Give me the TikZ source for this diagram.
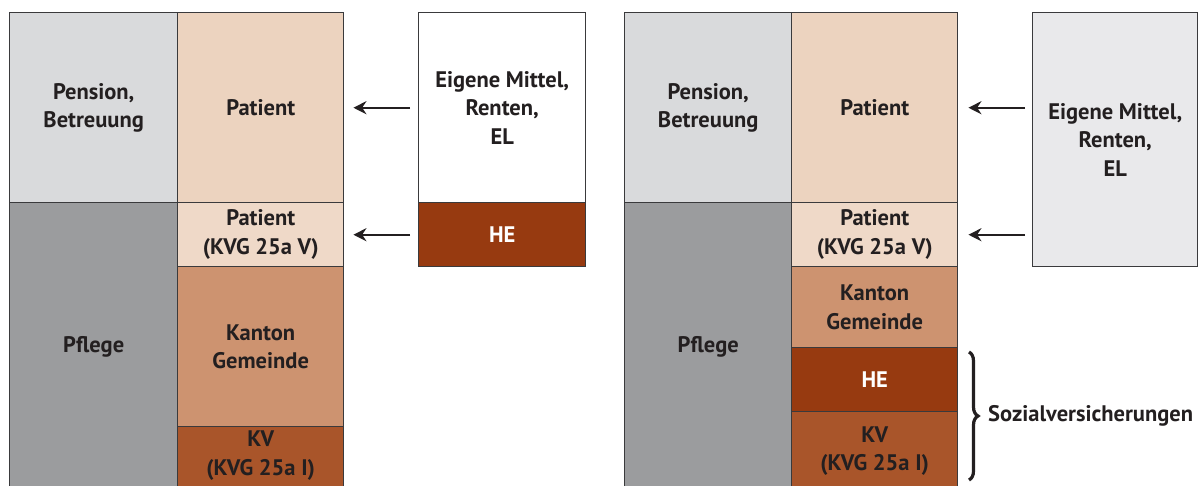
\documentclass[tikz,border=0pt]{standalone}
\usepackage{fontspec}
\setmainfont{PT Sans}
\usetikzlibrary{arrows.meta,decorations.pathreplacing}
\definecolor{pengray}{HTML}{D9DADC}
\definecolor{pflgray}{HTML}{9B9C9E}
\definecolor{patc}{HTML}{ECD3BF}
\definecolor{pkvc}{HTML}{EFD9C8}
\definecolor{kanc}{HTML}{CD9370}
\definecolor{kvc}{HTML}{A9552A}
\definecolor{hec}{HTML}{973A10}
\definecolor{eigc}{HTML}{E9E9EB}
\definecolor{inkc}{HTML}{231F20}
\definecolor{linec}{HTML}{3A3A3C}
\tikzset{
  lbl/.style={text=inkc, font=\fontsize{22.5}{28.5}\selectfont\bfseries},
  cell/.style={lbl, draw=linec, line width=1.4pt, anchor=north west, inner sep=0pt,
    align=center},
  arr/.style={draw=inkc, line width=2.2pt, -{Stealth[length=13pt,width=13pt]}},
  brc/.style={draw=inkc, line width=3.2pt, decorate, decoration={brace, amplitude=9pt}},
}
\begin{document}
\begin{tikzpicture}[x=1pt,y=-1pt]
\useasboundingbox (0,0) rectangle (1201,485);
\clip (0,0) rectangle (1201,485);
% ---------- left diagram ----------
\node[cell, fill=pengray, minimum width=168pt, minimum height=190pt] (pen1) at (9,12) {Pension,\\Betreuung};
\node[cell, fill=pflgray, minimum width=168pt, minimum height=288pt] (pfl1) at (9,202) {Pflege};
\node[cell, fill=patc, minimum width=166pt, minimum height=190pt] (pat1) at (177,12) {Patient};
\node[cell, fill=pkvc, minimum width=166pt, minimum height=64pt] (pkv1) at (177,202) {Patient\\(KVG 25a V)};
\node[cell, fill=kanc, minimum width=166pt, minimum height=160pt] (kan1) at (177,266) {Kanton\\Gemeinde};
\node[cell, fill=kvc, minimum width=166pt, minimum height=64pt, text depth=11pt] (kv1) at (177,426) {KV\\(KVG 25a I)};
\node[cell, fill=white, minimum width=167pt, minimum height=190pt] (eig1) at (418,12) {Eigene Mittel,\\Renten,\\EL};
\node[cell, fill=hec, text=white, minimum width=167pt, minimum height=64pt] (he1) at (418,202) {HE};
\draw[arr] ([xshift=-8pt]eig1.west |- pat1.east) -- ([xshift=9pt]pat1.east);
\draw[arr] ([xshift=-8pt]he1.west) -- ([xshift=9pt]pkv1.east);
% ---------- right diagram ----------
\node[cell, fill=pengray, minimum width=167pt, minimum height=190pt] (pen2) at (624,12) {Pension,\\Betreuung};
\node[cell, fill=pflgray, minimum width=167pt, minimum height=288pt] (pfl2) at (624,202) {Pflege};
\node[cell, fill=patc, minimum width=166pt, minimum height=190pt] (pat2) at (791,12) {Patient};
\node[cell, fill=pkvc, minimum width=166pt, minimum height=64pt] (pkv2) at (791,202) {Patient\\(KVG 25a V)};
\node[cell, fill=kanc, minimum width=166pt, minimum height=81pt] (kan2) at (791,266) {Kanton\\Gemeinde};
\node[cell, fill=hec, text=white, minimum width=166pt, minimum height=64pt] (he2) at (791,347) {HE};
\node[cell, fill=kvc, minimum width=166pt, minimum height=79pt] (kv2) at (791,411) {KV\\(KVG 25a I)};
\node[cell, fill=eigc, minimum width=165pt, minimum height=254pt] (eig2) at (1032,12) {Eigene Mittel,\\Renten,\\EL};
\draw[arr] ([xshift=-7pt]eig2.west |- pat2.east) -- ([xshift=10pt]pat2.east);
\draw[arr] ([xshift=-7pt]eig2.west |- pkv2.east) -- ([xshift=10pt]pkv2.east);
\coordinate (bt) at (969,352);
\coordinate (bb) at (969,480);
\draw[brc] (bt) -- (bb);
\node[lbl, anchor=west, inner sep=0pt] (soz) at (988,416) {Sozialversicherungen};
\end{tikzpicture}
\end{document}
